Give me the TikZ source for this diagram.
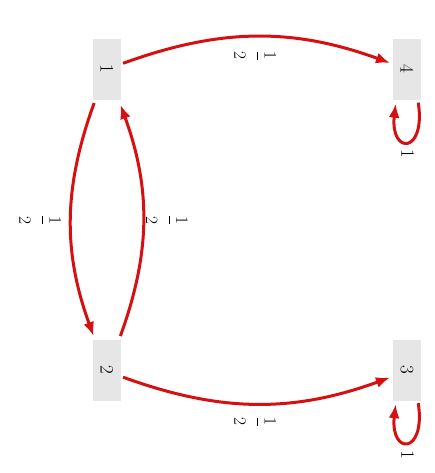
\documentclass[tikz,border=0pt]{standalone}
\usetikzlibrary{arrows.meta}
\definecolor{boxgray}{RGB}{230,230,230}
\definecolor{edgered}{RGB}{214,16,16}
\tikzset{
  statebox/.style={rectangle, fill=boxgray, draw=none, minimum width=28pt, minimum height=61pt, inner sep=0pt, font=\fontsize{19}{22}\selectfont},
  trans/.style={draw=edgered, line width=3pt, -{Latex[length=14pt,width=11pt]}},
  wlabel/.style={inner sep=0pt, font=\fontsize{19}{22}\selectfont}
}
\newcommand{\rt}[1]{\rotatebox[origin=c]{-90}{#1}}
\newcommand{\hf}{\rt{$\displaystyle\frac{1}{\rule{0pt}{21.5pt}2}$}}
\begin{document}
\begin{tikzpicture}[x=1pt,y=1pt]
\useasboundingbox (0,0) rectangle (435,473);
\node[statebox] (n1) at (107,403) {\rt{1}};
\node[statebox] (n4) at (407,403) {\rt{4}};
\node[statebox] (n2) at (107,102.5) {\rt{2}};
\node[statebox] (n3) at (407,102.5) {\rt{3}};

\draw[trans, shorten <=2pt, shorten >=3pt] ([yshift=6pt]n1.east) to[bend left=20]
  node[wlabel, midway, xshift=-2pt, yshift=-19pt] {\hf} ([yshift=6pt]n4.west);
\draw[trans, shorten <=2pt, shorten >=3pt] ([yshift=-6pt]n2.east) to[bend right=20]
  node[wlabel, midway, xshift=-2pt, yshift=-18pt] {\hf} ([yshift=-6pt]n3.west);
\draw[trans, shorten <=2.5pt, shorten >=4pt] ([xshift=-12pt]n1.south) to[bend right=20]
  node[wlabel, midway, xshift=-31pt] {\hf} ([xshift=-12pt]n2.north);
\draw[trans, shorten <=4pt, shorten >=4.5pt] ([xshift=12pt]n2.north) to[bend right=20]
  node[wlabel, midway, xshift=24pt] {\hf} ([xshift=12pt]n1.south);

\draw[trans, shorten <=2pt, shorten >=3pt] ([xshift=11pt]n4.south) .. controls +(8,-54) and +(-6,-54) .. ([xshift=-11pt]n4.south)
  node[wlabel, pos=0.5, yshift=-14pt] {\rt{1}};
\draw[trans, shorten <=2pt, shorten >=3pt] ([xshift=11pt]n3.south) .. controls +(8,-54) and +(-6,-54) .. ([xshift=-11pt]n3.south)
  node[wlabel, pos=0.5, yshift=-14pt] {\rt{1}};
\end{tikzpicture}
\end{document}
